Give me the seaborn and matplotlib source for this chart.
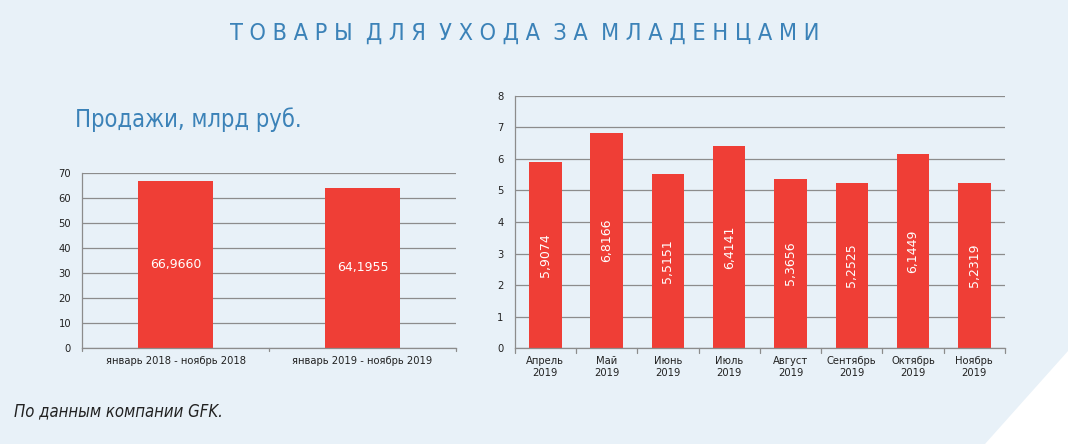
import matplotlib
matplotlib.use("Agg")
import matplotlib.pyplot as plt
import seaborn as sns
import pandas as pd
from matplotlib.patches import Polygon

# данные
periods = ['январь 2018 - ноябрь 2018', 'январь 2019 - ноябрь 2019']
period_sales = [66.9660, 64.1955]

months = ['Апрель\n2019', 'Май\n2019', 'Июнь\n2019', 'Июль\n2019',
          'Август\n2019', 'Сентябрь\n2019', 'Октябрь\n2019', 'Ноябрь\n2019']
month_sales = [5.9074, 6.8166, 5.5151, 6.4141, 5.3656, 5.2525, 6.1449, 5.2319]

bg = '#e8f1f8'
red = '#ef3e36'
blue = '#3b82b8'
grid = '#8c8c8c'

sns.set_theme(style='white')
plt.rcParams['font.family'] = ['DejaVu Sans']

fig = plt.figure(figsize=(10.68, 4.44), dpi=100)
fig.patch.set_facecolor(bg)

# белый уголок справа внизу
fig.patches.append(Polygon([[1.0, 0.21], [1.0, 0.0], [0.922, 0.0]], closed=True,
                           transform=fig.transFigure, facecolor='white', edgecolor='none'))

fig.text(0.491, 0.925, '  '.join(' '.join(w) for w in 'ТОВАРЫ ДЛЯ УХОДА ЗА МЛАДЕНЦАМИ'.split()),
         ha='center', va='center', color=blue, fontsize=16.8, fontstretch='condensed')
fig.text(0.070, 0.73, 'Продажи, млрд руб.', ha='left', va='center', color=blue,
         fontsize=17, fontstretch='condensed')
fig.text(0.013, 0.073, 'По данным компании GFK.', ha='left', va='center', color='#222222',
         fontsize=12, style='italic', fontstretch='condensed')


def style_axes(ax, ymax, step):
    ax.set_facecolor('none')
    ax.set_ylim(0, ymax)
    ax.set_yticks(range(0, ymax + 1, step))
    ax.yaxis.grid(True, color=grid, linewidth=0.9)
    ax.set_axisbelow(True)
    for s in ['top', 'right']:
        ax.spines[s].set_visible(False)
    for s in ['left', 'bottom']:
        ax.spines[s].set_color(grid)
        ax.spines[s].set_linewidth(0.9)
    ax.tick_params(axis='both', labelsize=7.2, colors='#222222', length=0)
    ax.tick_params(axis='y', pad=8)
    ax.tick_params(axis='x', pad=6)
    ax.set_xlabel('')
    ax.set_ylabel('')
    # засечки на границах категорий
    n = len(ax.get_xticks())
    for i in range(n + 1):
        ax.plot([i - 0.5, i - 0.5], [0, -ymax * 0.018], color=grid, lw=0.9, clip_on=False)
    ax.set_xlim(-0.5, n - 0.5)


# левый график
ax1 = fig.add_axes([0.077, 0.216, 0.350, 0.394])
df1 = pd.DataFrame({'period': periods, 'sales': period_sales})
sns.barplot(data=df1, x='period', y='sales', color=red, saturation=1, width=0.4,
            edgecolor='none', ax=ax1)
style_axes(ax1, 70, 10)
for i, v in enumerate(period_sales):
    ax1.text(i, v / 2, f'{v:.4f}'.replace('.', ','), ha='center', va='center',
             color='white', fontsize=9)

# правый график
ax2 = fig.add_axes([0.482, 0.216, 0.459, 0.568])
df2 = pd.DataFrame({'month': months, 'sales': month_sales})
sns.barplot(data=df2, x='month', y='sales', color=red, saturation=1, width=0.53,
            edgecolor='none', ax=ax2)
style_axes(ax2, 8, 1)
for i, v in enumerate(month_sales):
    ax2.text(i, v / 2, f'{v:.4f}'.replace('.', ','), ha='center', va='center',
             color='white', fontsize=9, rotation=90)

fig.savefig('out.png', dpi=100, facecolor=bg)
